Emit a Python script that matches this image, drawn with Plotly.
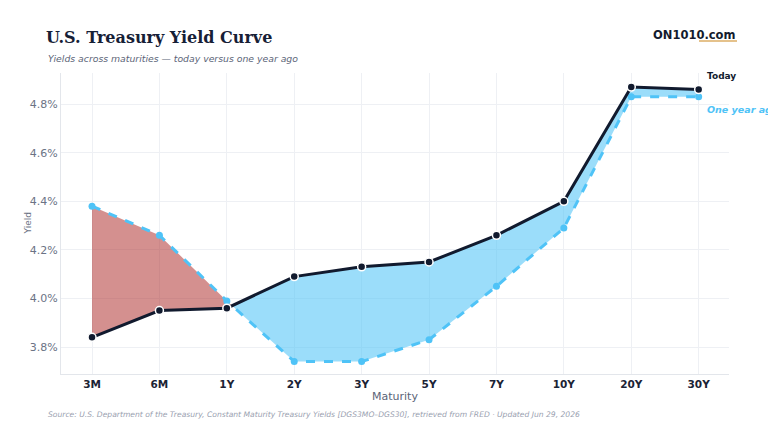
import plotly.graph_objects as go

maturities = ["3M", "6M", "1Y", "2Y", "3Y", "5Y", "7Y", "10Y", "20Y", "30Y"]
today = [3.84, 3.95, 3.96, 4.09, 4.13, 4.15, 4.26, 4.40, 4.87, 4.86]
year_ago = [4.38, 4.26, 3.99, 3.74, 3.74, 3.83, 4.05, 4.29, 4.83, 4.83]
y_ticks = [3.8, 4.0, 4.2, 4.4, 4.6, 4.8]

NAVY = "#111a2e"
BLUE = "#4fc3f7"
RED_FILL = "rgba(177,53,51,0.55)"
BLUE_FILL = "rgba(79,195,247,0.57)"

PW = 768 - 61 - 39
PH = 432 - 73 - 58

xs = list(range(len(maturities)))

# build fill segments between the curves, splitting at crossings
segments = []
cur_x, cur_t, cur_a = [xs[0]], [today[0]], [year_ago[0]]
cur_sign = 1 if today[0] >= year_ago[0] else -1
for i in range(1, len(xs)):
    d0 = today[i - 1] - year_ago[i - 1]
    d1 = today[i] - year_ago[i]
    s1 = 1 if d1 >= 0 else -1
    if s1 != cur_sign:
        t = d0 / (d0 - d1)
        xc = xs[i - 1] + t * (xs[i] - xs[i - 1])
        yc = today[i - 1] + t * (today[i] - today[i - 1])
        cur_x.append(xc); cur_t.append(yc); cur_a.append(yc)
        segments.append((cur_sign, cur_x, cur_t, cur_a))
        cur_x, cur_t, cur_a = [xc], [yc], [yc]
        cur_sign = s1
    cur_x.append(xs[i]); cur_t.append(today[i]); cur_a.append(year_ago[i])
segments.append((cur_sign, cur_x, cur_t, cur_a))

fig = go.Figure()
for sign, sx, st, sa in segments:
    fig.add_trace(go.Scatter(
        x=sx + sx[::-1], y=st + sa[::-1], fill="toself", mode="none",
        fillcolor=BLUE_FILL if sign > 0 else RED_FILL,
        hoverinfo="skip", showlegend=False))

fig.add_trace(go.Scatter(
    x=xs, y=year_ago, mode="lines+markers", name="One year ago",
    line=dict(color=BLUE, width=3, dash="dash"),
    marker=dict(color=BLUE, size=7), showlegend=False))
fig.add_trace(go.Scatter(
    x=xs, y=today, mode="lines+markers", name="Today",
    line=dict(color=NAVY, width=3),
    marker=dict(color=NAVY, size=8, line=dict(color="white", width=1.5)),
    showlegend=False))

fig.add_annotation(x=xs[-1], y=today[-1], text="<b>Today</b>", showarrow=False,
                   xanchor="left", xshift=6, yshift=14,
                   font=dict(family="DejaVu Sans", size=9, color=NAVY))
fig.add_annotation(x=xs[-1], y=year_ago[-1], text="<b><i>One year ago</i></b>", showarrow=False,
                   xanchor="left", xshift=6, yshift=-13,
                   font=dict(family="DejaVu Sans", size=9.5, color=BLUE))

fig.update_layout(
    width=768, height=432,
    margin=dict(l=61, r=39, t=73, b=58),
    paper_bgcolor="white", plot_bgcolor="white",
    font=dict(family="DejaVu Sans", color="#5b6477"),
    title=dict(text="<b>U.S. Treasury Yield Curve</b>", x=46 / 768, xanchor="left",
               y=1 - 37 / 432, yanchor="middle",
               font=dict(family="DejaVu Serif", size=16, color="#162036")),
    xaxis=dict(
        range=[-0.46, 9.45], tickvals=xs, ticktext=[f"<b>{m}</b>" for m in maturities],
        tickfont=dict(size=10.5, color="#1b2335"),
        showgrid=True, gridcolor="#eef0f4", gridwidth=1,
        showline=True, linecolor="#e3e6eb", linewidth=1,
        zeroline=False, ticks="", ticklen=0,
    ),
    yaxis=dict(
        range=[3.689, 4.928], tickvals=y_ticks, ticktext=[f"{v:.1f}%" for v in y_ticks],
        tickfont=dict(size=11, color="#6b7385"),
        showgrid=True, gridcolor="#eef0f4", gridwidth=1,
        showline=True, linecolor="#e3e6eb", linewidth=1,
        zeroline=False, ticks="", ticklen=0,
    ),
)

fig.add_annotation(xref="paper", yref="paper", x=(27 - 61) / PW, y=0.5,
                   xanchor="center", yanchor="middle", showarrow=False, textangle=-90,
                   text="Yield", font=dict(family="DejaVu Sans", size=9, color="#6b7385"))
fig.add_annotation(xref="paper", yref="paper", x=(395 - 61) / PW, y=-(396 - 374) / PH,
                   xanchor="center", yanchor="middle", showarrow=False,
                   text="Maturity", font=dict(family="DejaVu Sans", size=11, color="#5b6477"))
fig.add_annotation(xref="paper", yref="paper", x=(46 - 61) / PW, y=1 + 15 / PH,
                   xanchor="left", yanchor="middle", showarrow=False,
                   text="<i>Yields across maturities — today versus one year ago</i>",
                   font=dict(family="DejaVu Sans", size=9.3, color="#5b6477"))
fig.add_annotation(xref="paper", yref="paper", x=1 + 8 / PW, y=1 + 38 / PH,
                   xanchor="right", yanchor="middle", showarrow=False,
                   text="<b>ON1010.com</b>",
                   font=dict(family="DejaVu Sans", size=11.5, color="#141b2d"))
fig.add_shape(type="line", xref="paper", yref="paper",
              x0=1 + (699 - 729) / PW, x1=1 + (737 - 729) / PW,
              y0=1 + 32 / PH, y1=1 + 32 / PH,
              line=dict(color="#dcae66", width=1.5))
fig.add_annotation(xref="paper", yref="paper", x=(46 - 61) / PW, y=-(414 - 374) / PH,
                   xanchor="left", yanchor="middle", showarrow=False,
                   text="<i>Source: U.S. Department of the Treasury, Constant Maturity Treasury Yields [DGS3MO–DGS30], retrieved from FRED · Updated Jun 29, 2026</i>",
                   font=dict(family="DejaVu Sans", size=7.6, color="#9aa1b0"))

fig.write_html("out.html")
